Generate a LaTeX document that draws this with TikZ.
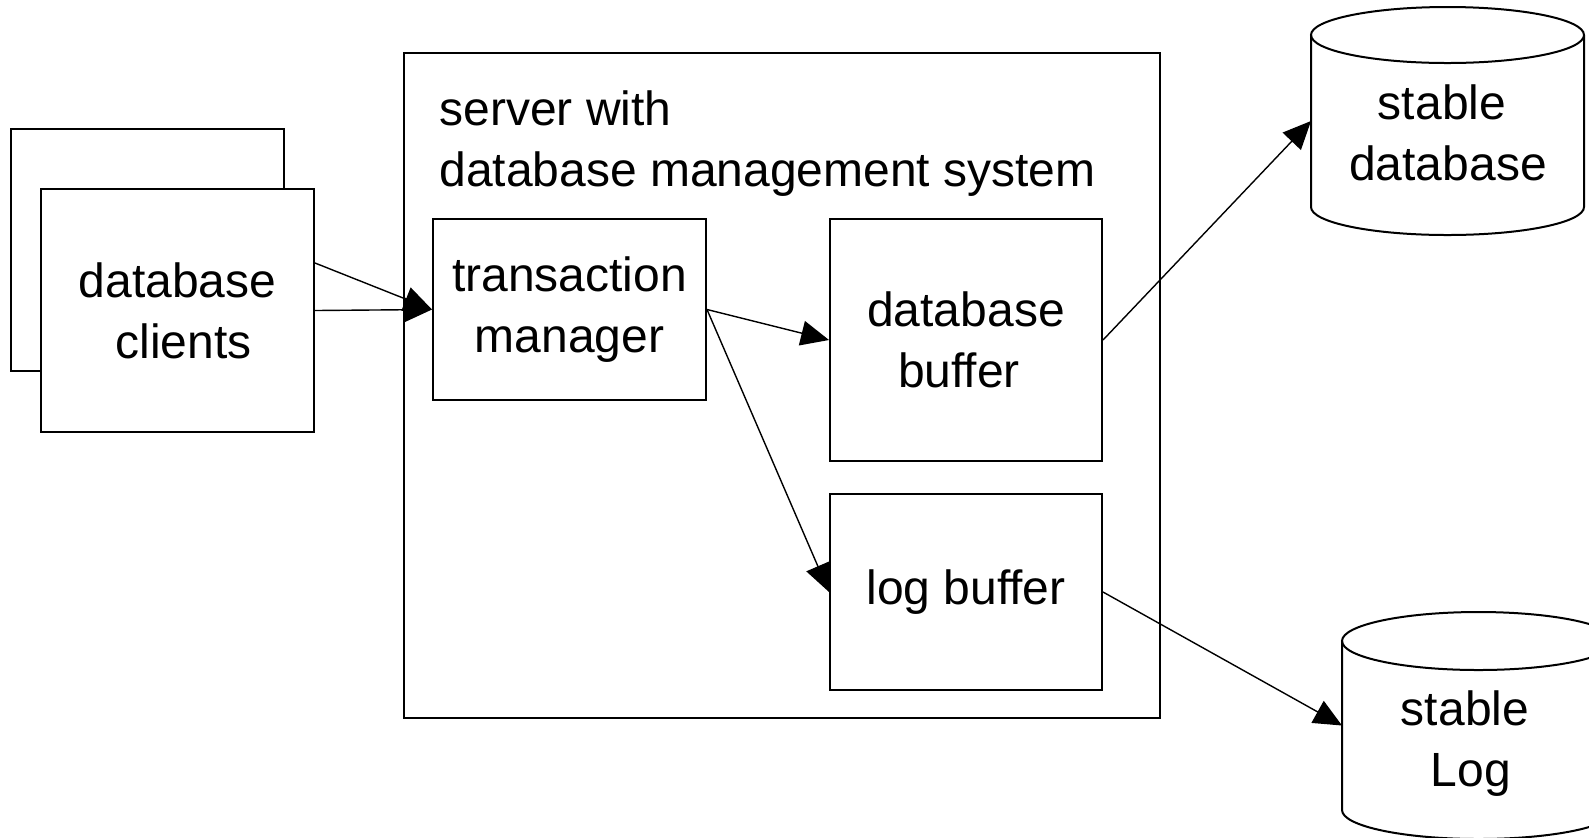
\documentclass[tikz,border=0pt]{standalone}
\usepackage{fontspec}
\setmainfont{Liberation Sans}
\usetikzlibrary{arrows.meta,positioning}

\begin{document}
\begin{tikzpicture}[x=0.5pt,y=-0.5pt,
    font=\fontsize{24}{30.5}\selectfont,
    box/.style={draw,line width=1pt,fill=white,align=center,inner sep=0pt},
    flow/.style={-{Triangle[length=14pt,width=12.5pt]},line width=0.7pt},
    disk/.style={draw,line width=1pt,fill=white}]

    \clip (0,0) rectangle (1589,837);

    % Clients (two stacked boxes)
    \node[box,minimum width=136.5pt,minimum height=121pt] (client2) at (147.5,250) {};
    \node[box,minimum width=136.5pt,minimum height=121.5pt] (clients) at (177.5,310.5) {database\\\kern6pt clients};

    % Server and its parts
    \node[box,minimum width=378pt,minimum height=332.5pt] (server) at (782,385.5) {};
    \node[anchor=north west,align=left,inner sep=0pt] (title) at (439,90) {server with\\database management system};
    \node[box,minimum width=136.5pt,minimum height=90.5pt] (tm) at (569.5,309.5) {transaction\\manager};
    \node[box,minimum width=136pt,minimum height=121pt,
          right=61pt of tm.north east,anchor=north west] (dbbuf) {database\\buffer\kern7pt};
    \node[box,minimum width=136pt,minimum height=98pt,below=15.5pt of dbbuf] (logbuf) {log buffer};

    % Stable storage
    \path[disk] (1311,35) -- (1311,207)
        arc[start angle=180,end angle=360,x radius=68.25pt,y radius=14pt] -- (1584,35);
    \draw[line width=1pt] (1447.5,35) ellipse[x radius=68.25pt,y radius=14pt];
    \coordinate (stabledb-w) at (1311,121);
    \node[align=center,inner sep=0pt] (stabledb) at (1448,133) {stable\kern6pt\\database};

    \path[disk] (1342,641) -- (1342,810)
        arc[start angle=180,end angle=360,x radius=68.25pt,y radius=14.5pt] -- (1615,641);
    \draw[line width=1pt] (1478.5,641) ellipse[x radius=68.25pt,y radius=14.5pt];
    \coordinate (stablelog-w) at (1342,725.5);
    \node[align=center,inner sep=0pt] (stablelog) at (1471,744) {stable\kern6pt\\Log};

    % Arrows
    \draw[flow] ([yshift=23.75pt]clients.east) -- (tm.west);
    \draw[flow] (clients.east) -- (tm.west);
    \draw[flow] (tm.east) -- (dbbuf.west);
    \draw[flow] (tm.east) -- (logbuf.west);
    \draw[flow] (dbbuf.east) -- (stabledb-w);
    \draw[flow] (logbuf.east) -- (stablelog-w);

\end{tikzpicture}
\end{document}
